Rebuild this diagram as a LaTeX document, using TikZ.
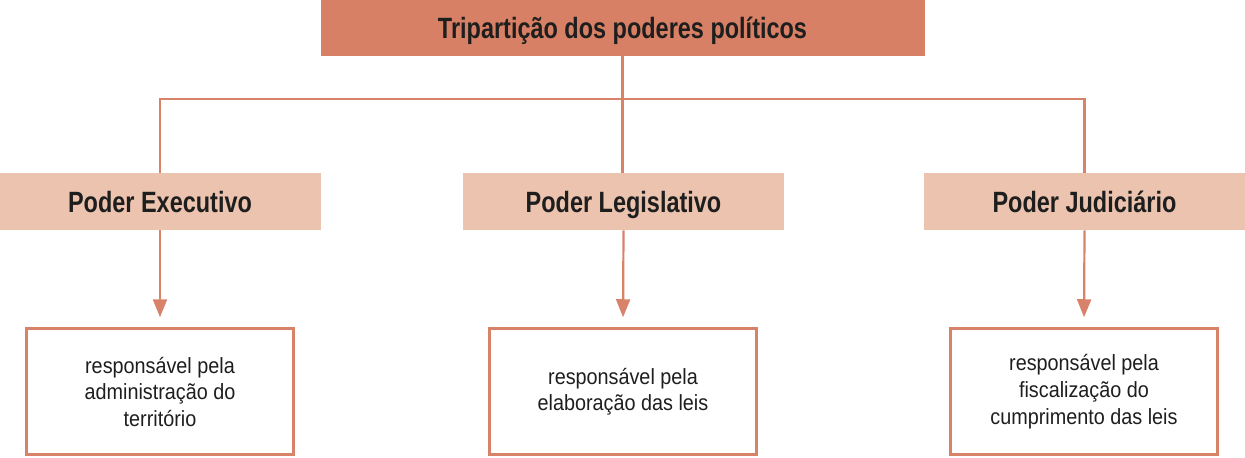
\documentclass[tikz,border=0pt]{standalone}
\usepackage{fontspec}
\setmainfont{Liberation Sans}
\newfontfamily\headfont[FakeStretch=0.8]{Liberation Sans}
\newfontfamily\rolefont[FakeStretch=0.9]{Liberation Sans}
\usetikzlibrary{arrows.meta}
\definecolor{topcol}{HTML}{D88065}
\definecolor{powercol}{HTML}{ECC3AE}
\definecolor{linecol}{HTML}{D9826A}
\definecolor{textcol}{HTML}{1E1E1E}
\tikzset{
	titlebox/.style = {fill = topcol, text = textcol, minimum width = 604*0.75pt, minimum height = 56*0.75pt,
		inner sep = 0pt, text height = 15.75pt, text depth = 0pt, font = \headfont\bfseries\fontsize{22}{26}\selectfont},
	powerbox/.style = {fill = powercol, text = textcol, minimum width = 321*0.75pt, minimum height = 57*0.75pt,
		inner sep = 0pt, text height = 15.75pt, text depth = 0pt, font = \headfont\bfseries\fontsize{22}{26}\selectfont},
	rolebox/.style = {draw = linecol, line width = 2.25pt, text = textcol, minimum width = 267*0.75pt,
		minimum height = 126*0.75pt, inner sep = 0pt, align = center, font = \rolefont\fontsize{16.5}{20}\selectfont},
	link/.style = {draw = linecol, line width = 1.65pt},
	arrow/.style = {link, -{Triangle[length = 13.5pt, width = 10.5pt]}, shorten >= 7.5pt}
}
\begin{document}
\begin{tikzpicture}[x = 0.75pt, y = -0.75pt]
	\useasboundingbox (0, 0) rectangle (1245, 457);
	% height of the bar that joins the three powers
	\coordinate (bar) at (0, 99);
	% title
	\node[titlebox] (tri) at (622.5, 28) {Tripartição dos poderes políticos};
	% the three powers
	\node[powerbox] (exe) at (160, 201.5)  {Poder Executivo};
	\node[powerbox] (leg) at (623.5, 201.5) {Poder Legislativo};
	\node[powerbox] (jud) at (1084.5, 201.5) {Poder Judiciário};
	% what each power does
	\node[rolebox] (rexe) at (160, 391.75)  {responsável pela\\administração do\\território};
	\node[rolebox] (rleg) at (623, 391.75)  {responsável pela\\elaboração das leis};
	\node[rolebox] (rjud) at (1084, 391.75) {responsável pela\\fiscalização do\\cumprimento das leis};
	% branches
	\draw[link] (tri.south) -- (tri.south |- leg.north);
	\draw[link] (exe.north) -- (exe.north |- bar) -- (jud.north |- bar) -- (jud.north);
	% arrows
	\draw[arrow] (exe.south) -- (rexe.north);
	\draw[arrow] (leg.south) -- (rleg.north);
	\draw[arrow] (jud.south) -- (rjud.north);
\end{tikzpicture}
\end{document}
